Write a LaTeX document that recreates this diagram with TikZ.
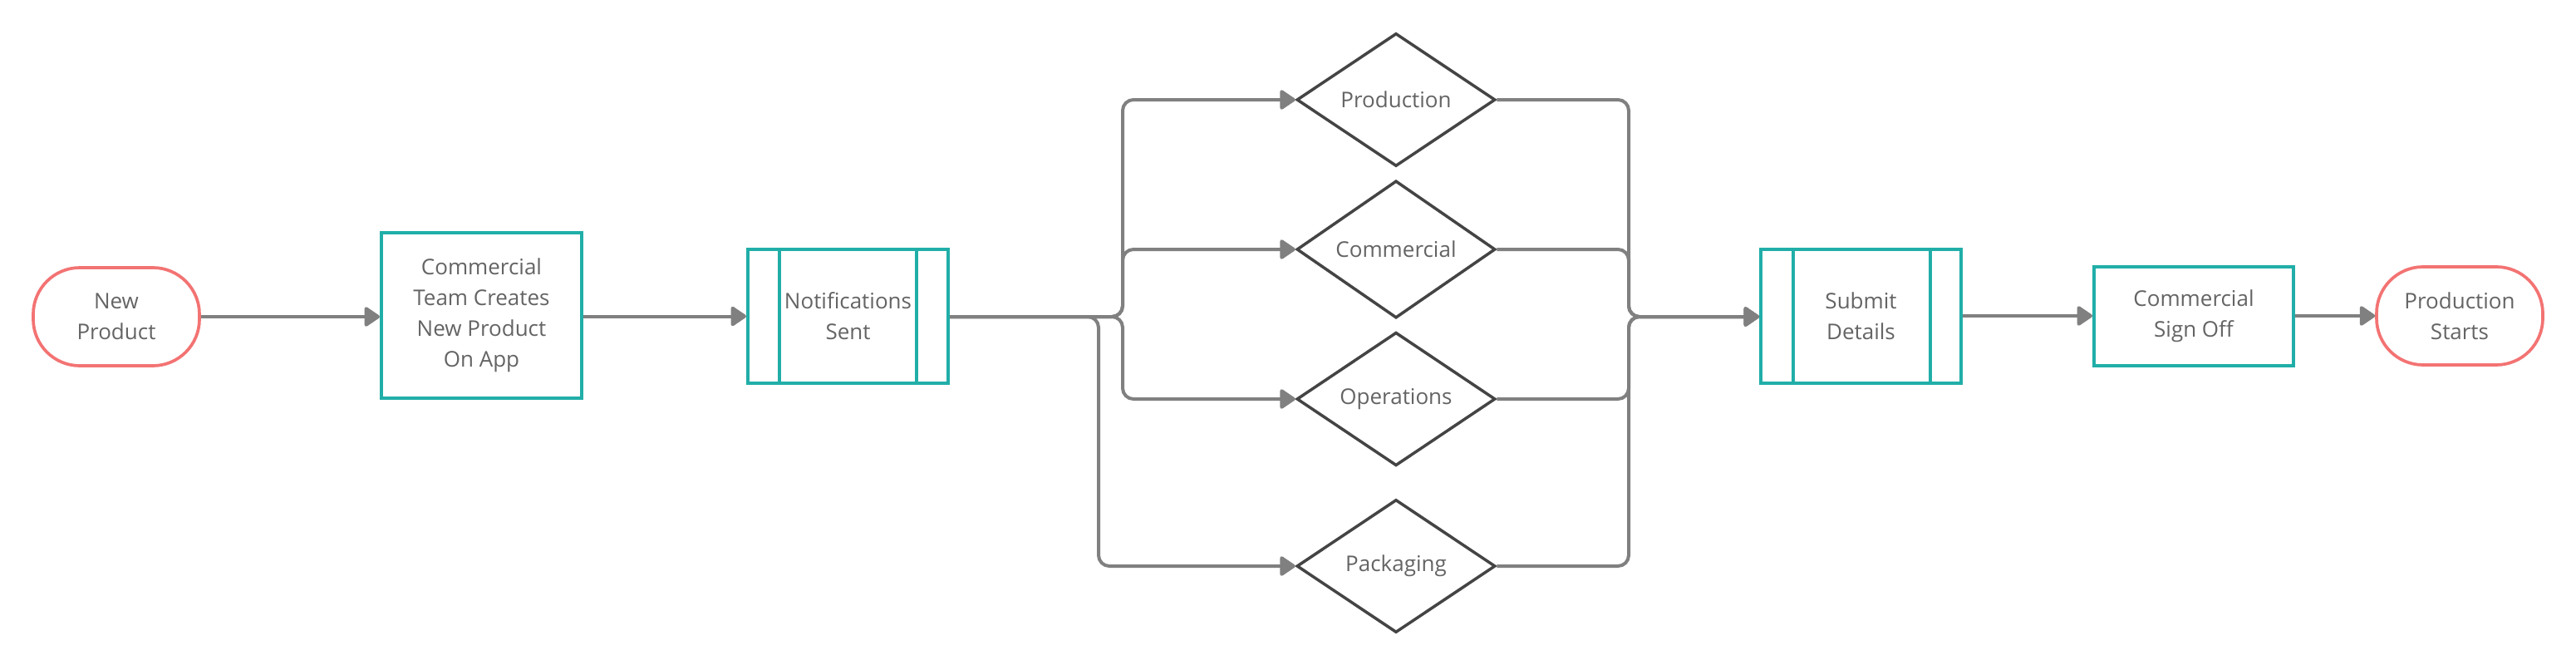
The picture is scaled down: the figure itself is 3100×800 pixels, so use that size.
\documentclass[tikz,border=0pt]{standalone}
\usepackage{fontspec}
\setmainfont{Open Sans}
\usetikzlibrary{shapes.geometric,arrows.meta}
\definecolor{tealc}{RGB}{33,174,168}
\definecolor{redc}{RGB}{243,115,115}
\definecolor{connc}{RGB}{128,128,128}
\definecolor{decc}{RGB}{68,68,68}
\definecolor{txtc}{RGB}{100,100,100}
\tikzset{
  base/.style={font=\fontsize{26}{37}\selectfont, text=txtc, align=center, inner sep=0pt, fill=white},
  term/.style={base, draw=redc, line width=3.7pt, rectangle, rounded corners=56pt, minimum width=200pt, minimum height=118pt},
  proc/.style={base, draw=tealc, line width=4pt, rectangle, minimum width=241pt},
  pproc/.style={base, draw=tealc, line width=4pt, rectangle, minimum width=241pt, minimum height=161pt},
  inner/.style={draw=tealc, line width=4pt},
  dec/.style={base, draw=decc, line width=3.5pt, diamond, minimum width=239pt, minimum height=160pt},
  conn/.style={draw=connc, line width=4pt, rounded corners=13pt},
  arr/.style={-{Triangle[length=20pt,width=26pt,round]}},
}
\begin{document}
\begin{tikzpicture}[x=1pt,y=-1pt]
\useasboundingbox[fill=white] (0,0) rectangle (3100,800);
% nodes
\node[term] (np) at (140,381) {New\\Product};
\node[proc, minimum height=199pt] (ct) at (579.5,379) {Commercial\\Team Creates\\New Product\\On App};
\node[pproc] (ns) at (1020.5,380.5) {Notifications\\Sent};
\draw[inner] ([xshift=40pt]ns.north west) -- ([xshift=40pt]ns.south west);
\draw[inner] ([xshift=-40pt]ns.north east) -- ([xshift=-40pt]ns.south east);
\node[dec] (dp) at (1680,120) {Production};
\node[dec] (dc) at (1680,300) {Commercial};
\node[dec] (do) at (1680,480) {Operations};
\node[dec] (dk) at (1680,681) {Packaging};
\node[pproc] (sd) at (2239.5,380.5) {Submit\\Details};
\draw[inner] ([xshift=41pt]sd.north west) -- ([xshift=41pt]sd.south west);
\draw[inner] ([xshift=-39pt]sd.north east) -- ([xshift=-39pt]sd.south east);
\node[proc, minimum width=240pt, minimum height=119pt] (cs) at (2640,380) {Commercial\\Sign Off};
\node[term] (ps) at (2960,380) {Production\\Starts};
% bend coordinates
\coordinate (bl) at (1351,381);
\coordinate (bk) at (1322,381);
\coordinate (br) at (1960,381);
% connectors
\draw[conn, arr] (np.east) -- (ct.west |- np.east);
\draw[conn, arr] (ct.east |- ns.west) -- (ns.west);
\draw[conn, arr] (ns.east |- bl) -- (bl) |- (dp.west);
\draw[conn, arr] (ns.east |- bl) -- (bl) |- (dc.west);
\draw[conn, arr] (ns.east |- bl) -- (bl) |- (do.west);
\draw[conn, arr] (ns.east |- bl) -- (bk) |- (dk.west);
\draw[conn, arr] (dp.east) -| (br) -- (sd.west |- br);
\draw[conn, arr] (dc.east) -| (br) -- (sd.west |- br);
\draw[conn, arr] (do.east) -| (br) -- (sd.west |- br);
\draw[conn, arr] (dk.east) -| (br) -- (sd.west |- br);
\draw[conn, arr] (sd.east |- cs.west) -- (cs.west);
\draw[conn, arr] (cs.east) -- (ps.west);
\end{tikzpicture}
\end{document}
